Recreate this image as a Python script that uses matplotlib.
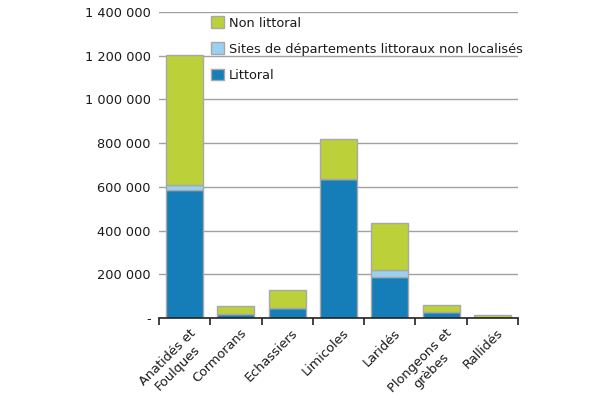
import matplotlib
matplotlib.use("Agg")
import matplotlib.pyplot as plt
import matplotlib.transforms as mtransforms
import numpy as np
from matplotlib.ticker import FuncFormatter, FixedLocator

categories = ["Anatidés et\nFoulques", "Cormorans", "Echassiers", "Limicoles",
              "Laridés", "Plongeons et\ngrèbes", "Rallidés"]
littoral = [587000, 17000, 44000, 637000, 189000, 26000, 1000]
sites_non_localises = [20000, 0, 0, 0, 31000, 0, 0]
non_littoral = [598000, 36000, 83000, 181000, 213000, 32000, 11000]
series_names = ["Littoral", "Sites de départements littoraux non localisés", "Non littoral"]
colors = ["#157db8", "#9ad0f0", "#bcd03a"]

plt.rcParams['font.family'] = ['DejaVu Sans']
text_color = "#1a1a1a"
fs = 9.3

fig = plt.figure(figsize=(6.16, 3.96), dpi=100)
ax = fig.add_axes([0.258, 0.197, 0.583, 0.773])

x = np.arange(len(categories))
bottom = np.zeros(len(categories))
handles = []
for vals, name, c in zip([littoral, sites_non_localises, non_littoral], series_names, colors):
    b = ax.bar(x, vals, bottom=bottom, width=0.72, color=c, edgecolor="#a8a8a8",
               linewidth=1.0, label=name, zorder=3)
    handles.append(b)
    bottom += np.array(vals)

ax.set_xlim(-0.5, len(categories) - 0.5)
ax.set_ylim(0, 1400000)
ax.set_yticks(np.arange(0, 1400001, 200000))

def fmt(v, pos):
    if v == 0:
        return "-"
    return f"{int(v):,}".replace(",", " ")

ax.yaxis.set_major_formatter(FuncFormatter(fmt))
ax.grid(axis="y", color="#a0a0a8", linewidth=1.0, zorder=0)
ax.tick_params(axis="y", length=0, pad=6, labelsize=fs, labelcolor=text_color)

for s in ["top", "right", "left"]:
    ax.spines[s].set_visible(False)
ax.spines["bottom"].set_color("#222222")
ax.spines["bottom"].set_linewidth(1.2)
ax.spines["bottom"].set_zorder(4)

ax.set_xticks(x)
ax.set_xticklabels(categories, rotation=45, ha="right", va="top",
                   rotation_mode="anchor", multialignment="center",
                   fontsize=fs, color=text_color)
ax.tick_params(axis="x", which="major", length=0, pad=6)
offset = mtransforms.ScaledTranslation(3 / 72, 0, fig.dpi_scale_trans)
for lab in ax.get_xticklabels():
    lab.set_transform(lab.get_transform() + offset)
ax.xaxis.set_minor_locator(FixedLocator(np.arange(-0.5, len(categories), 1.0)))
ax.tick_params(axis="x", which="minor", length=5, width=1.2, color="#222222", direction="out")

leg = ax.legend(handles[::-1], series_names[::-1], loc="upper left",
                bbox_to_anchor=(0.12, 1.015), frameon=False, fontsize=fs,
                handlelength=1.0, handleheight=1.0, handletextpad=0.4,
                labelspacing=1.0, borderaxespad=0.3)
for t in leg.get_texts():
    t.set_color(text_color)

fig.savefig("out.png", dpi=100)
